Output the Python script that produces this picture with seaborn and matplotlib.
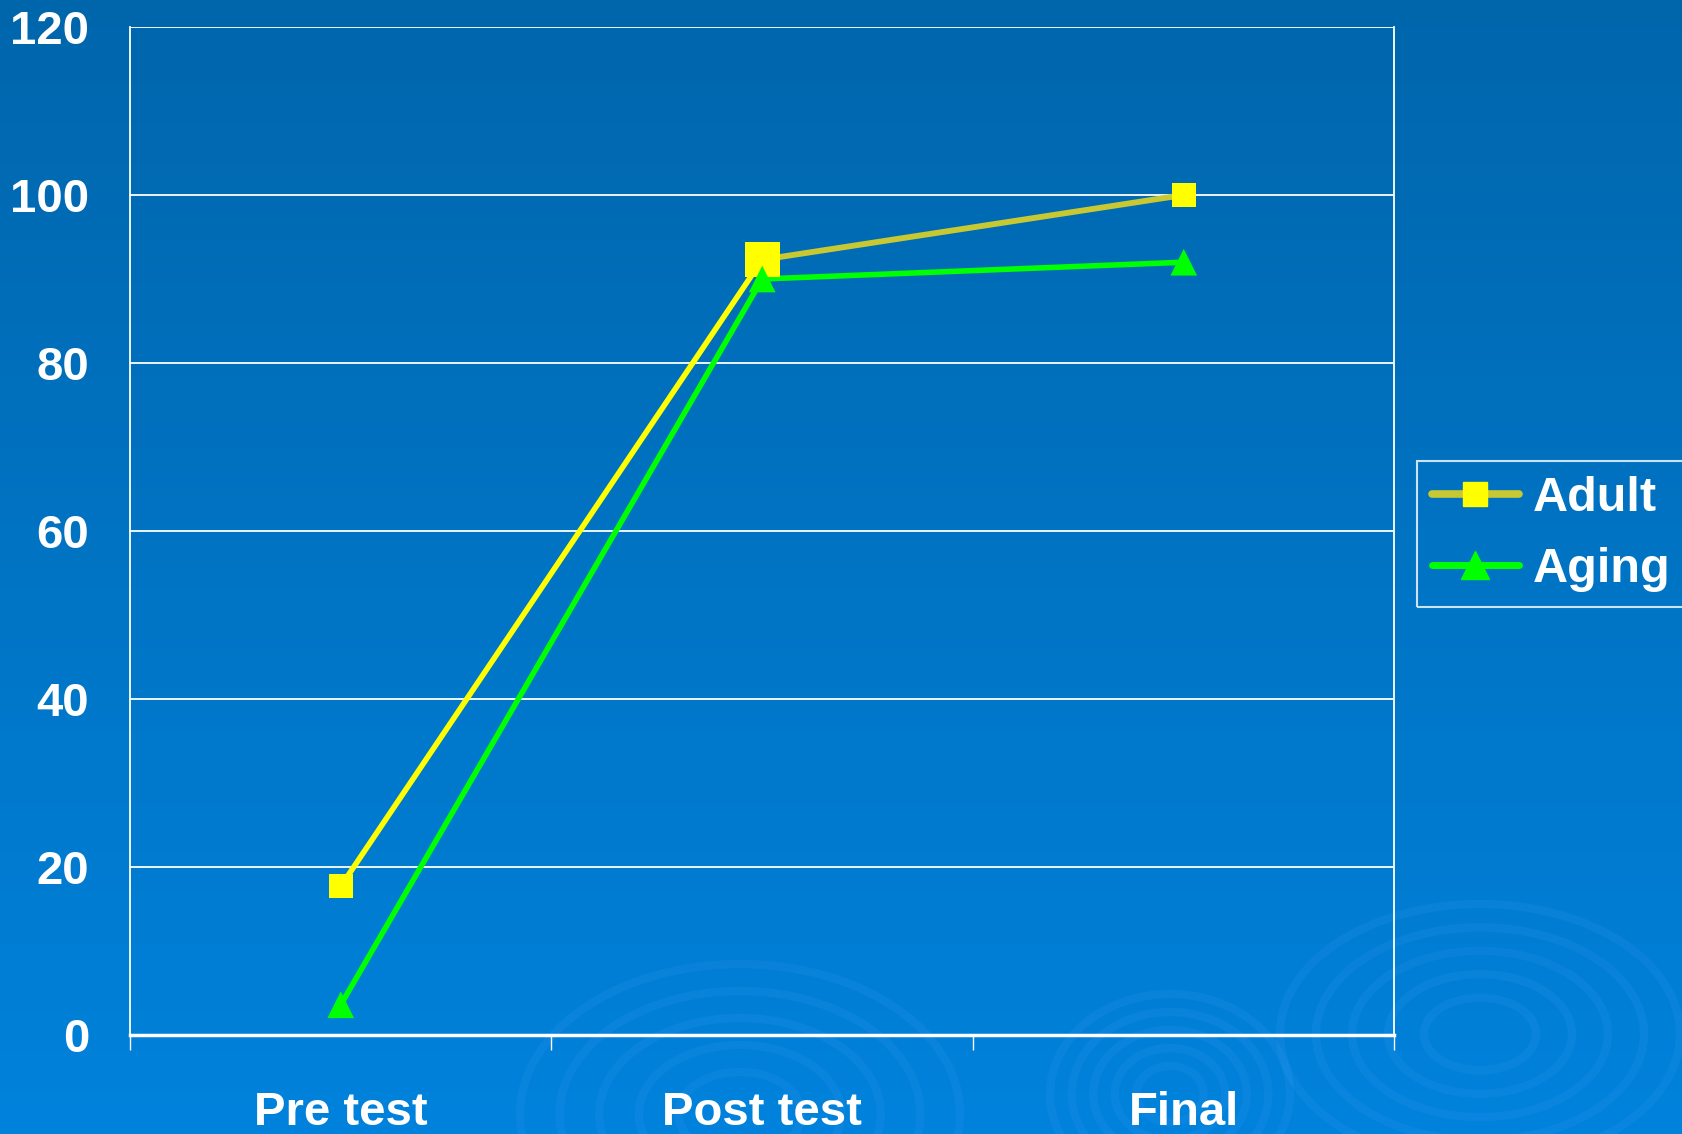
import numpy as np
import pandas as pd
import matplotlib
matplotlib.use("Agg")
import matplotlib.pyplot as plt
from matplotlib.lines import Line2D
from matplotlib.patches import Ellipse
import seaborn as sns

categories = ["Pre test", "Post test", "Final"]
adult = [17.7, 92.3, 100.0]
aging = [3.6, 90.0, 92.0]
y_ticks = [0, 20, 40, 60, 80, 100, 120]
series_names = ["Adult", "Aging"]

sns.set_theme(style="white")
plt.rcParams["font.family"] = ["Liberation Sans", "DejaVu Sans"]

W, H = 1682, 1134
fig = plt.figure(figsize=(W / 100, H / 100), dpi=100)

# background gradient
bg = fig.add_axes([0, 0, 1, 1], zorder=-10)
grad = np.linspace(0, 1, 256).reshape(-1, 1)
top = np.array([0, 102, 172]) / 255
bot = np.array([0, 130, 220]) / 255
img = top[None, None, :] * (1 - grad[:, :, None]) + bot[None, None, :] * grad[:, :, None]
bg.imshow(img, aspect="auto", extent=[0, W, 0, H], origin="upper")
# subtle decorative rings
for cx, cy, rx, ry in [(1480, 100, 200, 130), (740, 20, 220, 150), (1170, 40, 120, 100)]:
    for k in range(5):
        f = 1 - k * 0.18
        bg.add_patch(Ellipse((cx, cy), 2 * rx * f, 2 * ry * f, fill=False,
                             ec=(0.3, 0.65, 1.0, 0.12), lw=6))
bg.set_xlim(0, W)
bg.set_ylim(0, H)
bg.axis("off")

ax = fig.add_axes([130 / W, 1 - 1035 / H, (1394.5 - 130) / W, (1035 - 27) / H])
ax.set_facecolor("none")

x = np.arange(len(categories))

yellow = "#ffff00"
olive = "#c8c832"
green = "#00ff00"

# Adult line: first segment yellow, second olive
sns.lineplot(x=x[1:], y=adult[1:], ax=ax, color=olive, lw=4.2, zorder=3)
sns.lineplot(x=x[:2], y=adult[:2], ax=ax, color=yellow, lw=4.0, zorder=3)
sns.lineplot(x=x, y=aging, ax=ax, color=green, lw=4.0, zorder=4)

sns.scatterplot(x=x, y=adult, ax=ax, marker="s", s=[300, 640, 300], color=yellow,
                edgecolor="none", linewidth=0, zorder=5, legend=False)
sns.scatterplot(x=x, y=aging, ax=ax, marker="^", s=370, color=green,
                edgecolor="none", linewidth=0, zorder=6, legend=False)

ax.set_xlim(-0.5, 2.5)
ax.set_ylim(0, 120)
ax.set_yticks(y_ticks)
ax.set_yticklabels([str(t) for t in y_ticks])
ax.set_xticks(x)
ax.set_xticklabels(categories)
ax.set_xticks([-0.5, 0.5, 1.5, 2.5], minor=True)
ax.grid(axis="y", color="white", lw=1.3)
ax.set_axisbelow(True)
ax.tick_params(axis="y", which="major", length=11.5, width=1.3, color="white",
               labelcolor="white", labelsize=34, pad=18)
ax.tick_params(axis="x", which="major", length=0, labelcolor="white", labelsize=34, pad=40)
ax.tick_params(axis="x", which="minor", bottom=True, length=11, width=1.0, color="white")
for lab in ax.get_xticklabels() + ax.get_yticklabels():
    lab.set_fontweight("bold")
for s in ["left", "right"]:
    ax.spines[s].set_visible(True)
    ax.spines[s].set_color("white")
    ax.spines[s].set_linewidth(1.3)
ax.spines["top"].set_visible(False)
ax.spines["bottom"].set_color("white")
ax.spines["bottom"].set_linewidth(2.5)
ax.set_xlabel("")
ax.set_ylabel("")

handles = [
    Line2D([], [], color=olive, lw=5.5, marker="s", markersize=17, markerfacecolor=yellow,
           markeredgecolor=yellow),
    Line2D([], [], color=green, lw=5, marker="^", markersize=20, markerfacecolor=green,
           markeredgecolor=green, solid_capstyle="round"),
]
leg = fig.legend(handles, series_names, loc="upper left",
                 bbox_to_anchor=(1417 / W, 1 - 461 / H), frameon=True, fancybox=False,
                 fontsize=35, handlelength=1.8, handletextpad=0.28, labelspacing=0.55,
                 borderpad=0.3, borderaxespad=0)
frame = leg.get_frame()
frame.set_facecolor("none")
frame.set_edgecolor("white")
frame.set_linewidth(1.5)
for t in leg.get_texts():
    t.set_color("white")
    t.set_fontweight("bold")

fig.savefig("out.png", dpi=100)
